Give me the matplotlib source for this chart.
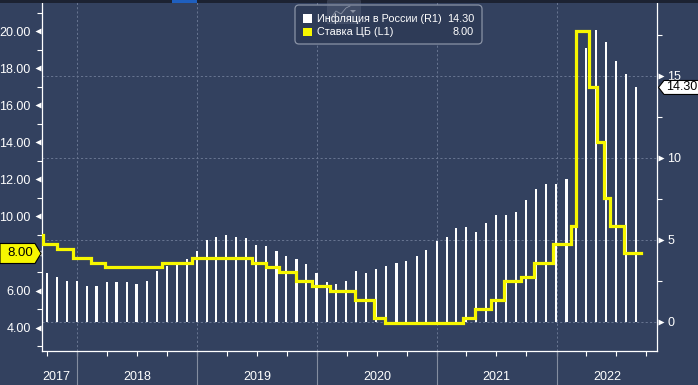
import matplotlib
matplotlib.use('Agg')
import matplotlib.pyplot as plt
import matplotlib.dates as mdates
from matplotlib.patches import Polygon, FancyBboxPatch, Rectangle
from matplotlib.transforms import IdentityTransform, blended_transform_factory
from matplotlib.ticker import FixedLocator
from matplotlib.lines import Line2D
import pandas as pd

plt.rcParams['font.family'] = ['Liberation Sans', 'DejaVu Sans']

# ---------------- data ----------------
cpi_start = '2017-09'
cpi_end = '2022-08'
cpi_values = [3.0, 2.7, 2.5, 2.5,
              2.2, 2.2, 2.4, 2.4, 2.4, 2.3, 2.5, 3.1, 3.4, 3.5, 3.8, 4.3,
              5.0, 5.2, 5.3, 5.2, 5.1, 4.7, 4.6, 4.3, 4.0, 3.8, 3.5, 3.0,
              2.4, 2.3, 2.5, 3.1, 3.0, 3.2, 3.4, 3.6, 3.7, 4.0, 4.4, 4.9,
              5.2, 5.7, 5.8, 5.5, 6.0, 6.5, 6.5, 6.7, 7.4, 8.1, 8.4, 8.4,
              8.7, 9.2, 16.7, 17.8, 17.1, 15.9, 15.1, 14.3]

rate_dates = ['2017-06-19', '2017-09-18', '2017-10-30', '2017-12-18', '2018-02-12',
              '2018-03-26', '2018-09-17', '2018-12-17', '2019-06-17', '2019-07-29',
              '2019-09-09', '2019-10-28', '2019-12-16', '2020-02-10', '2020-04-27',
              '2020-06-22', '2020-07-27', '2021-03-22', '2021-04-26', '2021-06-15',
              '2021-07-26', '2021-09-13', '2021-10-25', '2021-12-20', '2022-02-14',
              '2022-02-28', '2022-04-11', '2022-05-04', '2022-05-27', '2022-06-14',
              '2022-07-25', '2022-09-15']
rate_values = [9.00, 8.50, 8.25, 7.75, 7.50,
               7.25, 7.50, 7.75, 7.50, 7.25,
               7.00, 6.50, 6.25, 6.00, 5.50,
               4.50, 4.25, 4.50, 5.00, 5.50,
               6.50, 6.75, 7.50, 8.50, 9.50,
               20.00, 17.00, 14.00, 11.00, 9.50,
               8.00, 8.00]

years = ['2017', '2018', '2019', '2020', '2021', '2022']
left_ticks = [4, 6, 8, 10, 12, 14, 16, 18, 20]
left_minor = [3, 5, 7, 9, 11, 13, 15, 17, 19, 21]
right_ticks = [0, 5, 10, 15]
right_minor = [2.5, 7.5, 12.5, 17.5]
legend_names = ['Инфляция в России (R1)', 'Ставка ЦБ (L1)']
legend_values = ['14.30', '8.00']
last_cpi = 14.30
last_rate = 8.00

# ---------------- style ----------------
W, H, DPI = 698, 385, 100
BG = '#33415f'
YELLOW = '#f7f700'
GRID = '#687591'
SEP = '#848da0'

fig = plt.figure(figsize=(W / DPI, H / DPI), dpi=DPI, facecolor=BG)
ax_l, ax_r, ax_b, ax_t = 41.7, 657.3, 34.0, 385.0
ax2 = fig.add_axes([ax_l / W, ax_b / H, (ax_r - ax_l) / W, (ax_t - ax_b) / H])
ax2.set_facecolor(BG)
ax2.yaxis.tick_right()
ax = ax2.twinx()
ax.yaxis.tick_left()
ax.set_zorder(ax2.get_zorder() + 1)
ax.patch.set_visible(False)

cpi_dates = pd.period_range(cpi_start, cpi_end, freq='M').to_timestamp(how='end').normalize()
rd = pd.to_datetime(rate_dates)

xmin, xmax = pd.Timestamp('2017-09-14'), pd.Timestamp('2022-11-04')
ax2.set_xlim(xmin, xmax)
ax2.set_ylim(-1.79, 19.64)
ax.set_ylim(2.74, 21.675)

# bars (inflation, right axis)
ax2.bar(cpi_dates, cpi_values, width=6.5, color='white', zorder=3, linewidth=0)

# grid
for v in right_ticks:
    ax2.axhline(v, color=GRID, lw=0.7, ls=(0, (2.2, 2.2)), zorder=1)
year_starts = [pd.Timestamp(f'{y}-01-01') for y in years[1:]]
for d in year_starts:
    ax2.axvline(d, color=GRID, lw=0.7, ls=(0, (2.2, 2.2)), zorder=1)

# step line (key rate, left axis)
ax.step(rd, rate_values, where='post', color=YELLOW, lw=2.3, zorder=5, solid_joinstyle='miter')

# spines
for a in (ax, ax2):
    for s in a.spines.values():
        s.set_color('white')
        s.set_linewidth(0.9)
    a.spines['top'].set_visible(False)
ax.spines['right'].set_visible(False)
ax.spines['bottom'].set_visible(False)
ax2.spines['left'].set_visible(False)
ax.spines['left'].set_visible(True)

# x ticks
ax2.xaxis.set_major_locator(mdates.MonthLocator(bymonth=[1, 4, 7, 10]))
ax2.tick_params(axis='x', which='major', length=3.5, width=0.8, color='white', labelbottom=False)

# left y ticks (the 8.00 label is hidden under the value tag in the reference)
ax.set_yticks(left_ticks)
ax.set_yticklabels(['' if v == last_rate else f'{v:.2f}' for v in left_ticks])
ax.yaxis.set_minor_locator(FixedLocator(left_minor))
ax.tick_params(axis='y', which='major', length=0, pad=8, labelsize=9, labelcolor='white',
               left=True, right=False, labelleft=True, labelright=False)
ax.tick_params(axis='y', which='minor', length=3.5, width=0.8, color='white', left=True, right=False)

# right y ticks
ax2.set_yticks(right_ticks)
ax2.set_yticklabels([str(v) for v in right_ticks])
ax2.yaxis.set_minor_locator(FixedLocator(right_minor))
ax2.tick_params(axis='y', which='major', length=0, pad=7, labelsize=9, labelcolor='white',
                left=False, right=True, labelleft=False, labelright=True)
ax2.tick_params(axis='y', which='minor', length=3.5, width=0.8, color='white', left=False, right=True)

# triangle tick markers
ax.plot([-0.0068] * len(left_ticks), left_ticks, ls='none', marker='<', ms=4.5, color='white',
        mec='none', transform=ax.get_yaxis_transform(), clip_on=False, zorder=6)
ax2.plot([1.0062] * len(right_ticks), right_ticks, ls='none', marker='>', ms=4.5, color='white',
         mec='none', transform=ax2.get_yaxis_transform(), clip_on=False, zorder=6)

# year separators and labels
bt = blended_transform_factory(ax2.transData, ax2.transAxes)
for d in year_starts:
    ax2.add_line(Line2D([d, d], [0, -0.1], transform=bt, color=SEP, lw=0.8, clip_on=False))
bounds = [xmin] + year_starts + [xmax]
for i, y in enumerate(years):
    a, b = mdates.date2num(bounds[i]), mdates.date2num(bounds[i + 1])
    c = (a + b) / 2
    if i == 0:
        c = a + (b - a) * 0.40
    ax2.text(c, -0.073, y, transform=bt, ha='center', va='center', color='white', fontsize=9)

# value tags
fig.canvas.draw()
ident = IdentityTransform()
yc = ax.transData.transform((0, last_rate))[1]
tag = Polygon([(0, yc - 10), (35, yc - 10), (41, yc), (35, yc + 10), (0, yc + 10)], closed=True,
              facecolor=YELLOW, edgecolor='black', lw=0.8, transform=ident)
fig.patches.append(tag)
fig.text(33, yc, f'{last_rate:.2f}', transform=ident, ha='right', va='center', color='black', fontsize=9.5)

yc2 = ax2.transData.transform((0, last_cpi))[1]
tag2 = Polygon([(658.5, yc2), (664, yc2 + 7), (699, yc2 + 7), (699, yc2 - 7), (664, yc2 - 7)], closed=True,
               facecolor='white', edgecolor='black', lw=0.8, transform=ident)
fig.patches.append(tag2)
fig.text(666, yc2, f'{last_cpi:.2f}', transform=ident, ha='left', va='center', color='black', fontsize=9)

# top UI strip
fig.patches.append(Rectangle((0, H - 2.7), W, 2.7, facecolor='#1c2232', edgecolor='none', transform=ident))
fig.patches.append(Rectangle((172, H - 2.7), 25, 2.7, facecolor='#1f5fbf', edgecolor='none', transform=ident))

# legend box
lg = FancyBboxPatch((295, H - 44), 187, 39, boxstyle='round,pad=0,rounding_size=4',
                    facecolor='#2e3b57', edgecolor='#8a93a6', lw=0.9, transform=ident)
fig.patches.append(lg)
sq_colors = ['white', YELLOW]
row_y = [H - 18.5, H - 32]
for i in range(2):
    fig.patches.append(Rectangle((303, row_y[i] - 4.3), 8.5, 8.5, facecolor=sq_colors[i], edgecolor='none',
                                 transform=ident))
    fig.text(317, row_y[i], legend_names[i], transform=ident, ha='left', va='center', color='white', fontsize=7.8)
    fig.text(474, row_y[i], legend_values[i], transform=ident, ha='right', va='center', color='white', fontsize=7.8)

# chart icon overlay
fig.patches.append(Rectangle((327, H - 23), 33, 23, facecolor='#7d869a', alpha=0.25, edgecolor='#6d7690',
                             lw=0.6, transform=ident))
fig.lines.append(Line2D([331, 336, 341, 346, 350], [H - 18, H - 11, H - 14, H - 8, H - 6],
                        color='#8b93a5', lw=0.6, transform=ident))
fig.patches.append(Polygon([(350, H - 10), (356, H - 10), (353, H - 13)], closed=True, facecolor='#8b93a5',
                           edgecolor='none', transform=ident))

fig.savefig('out.png', dpi=DPI, facecolor=BG)
